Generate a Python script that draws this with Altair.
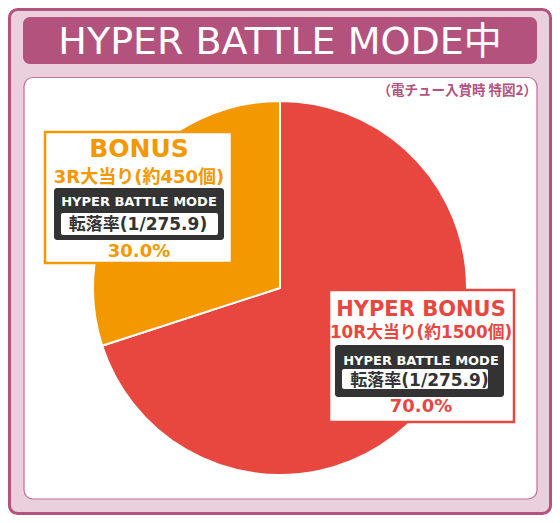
import altair as alt
import pandas as pd

# ---------------- data ----------------
categories = ["HYPER BONUS", "BONUS"]
shares = [70.0, 30.0]
slice_colors = ["#e8473f", "#f39800"]
headline_labels = ["HYPER BONUS", "BONUS"]
round_labels = ["10R大当り(約1500個)", "3R大当り(約450個)"]
mode_labels = ["HYPER BATTLE MODE", "HYPER BATTLE MODE"]
rate_labels = ["転落率(1/275.9)", "転落率(1/275.9)"]
pct_labels = ["70.0%", "30.0%"]
title_text = "HYPER BATTLE MODE中"
note_text = "（電チュー入賞時 特図2）"

# ---------------- layout helpers ----------------
OX, OY = 8, 8  # page margin
W, H = 544, 507
LATIN = "DejaVu Sans, Noto Sans CJK JP"


def px(v):
    return v - OX


def py(v):
    return v - OY


one = pd.DataFrame({"k": [0]})


def box(x1, y1, x2, y2, fill, stroke=None, sw=0, r=0):
    kw = dict(fill=fill, cornerRadius=r)
    if stroke:
        kw.update(stroke=stroke, strokeWidth=sw)
    else:
        kw.update(strokeWidth=0)
    return alt.Chart(one).mark_rect(**kw).encode(
        x=alt.value(px(x1)), x2=alt.value(px(x2)),
        y=alt.value(py(y1)), y2=alt.value(py(y2)))


def label(text, x, y, size, color, weight="bold", align="center", font=LATIN):
    df = pd.DataFrame({"t": [text]})
    return alt.Chart(df).mark_text(
        font=font, fontSize=size, fontWeight=weight, color=color,
        align=align, baseline="alphabetic").encode(
        x=alt.value(px(x)), y=alt.value(py(y)), text="t:N")


layers = []
# outer frame (drawn along the chart's own edges)
layers.append(box(OX + 1.5, OY + 1.5, OX + W - 1.5, OY + H - 1.5,
                  "#e9d0dc", "#b5527e", 3, 8))
# title banner
layers.append(box(23, 17, 537, 64, "#b3527d", r=7))
layers.append(label(title_text, 280, 54, 38, "white", weight="normal"))
# white panel
layers.append(box(24, 77.5, 537, 499, "white", "#c2709f", 1.2, 9))
layers.append(label(note_text, 537, 95, 13.5, "#b3527d", align="right",
                    font="Noto Sans CJK JP"))

# pie
pie_df = pd.DataFrame({"category": categories, "share": shares,
                       "order": list(range(len(categories)))})
pie = alt.Chart(pie_df).mark_arc(stroke="white", strokeWidth=2, radius=187).encode(
    theta=alt.Theta("share:Q", stack=True),
    color=alt.Color("category:N", scale=alt.Scale(domain=categories, range=slice_colors),
                    legend=None),
    order=alt.Order("order:Q"),
    x=alt.value(px(280)), y=alt.value(py(288)),
)
layers.append(pie)

# label boxes
specs = [
    dict(i=0, outer=(329, 290, 514, 422), dark=(335, 345, 504, 397),
         inner=(342, 369, 488, 389), cx=421, rate_x=419.5,
         ys=(316, 338, 365, 386, 412), sizes=(21, 16.8, 13, 17, 18)),
    dict(i=1, outer=(45, 132, 232, 263), dark=(54, 188, 224, 240),
         inner=(61, 213, 218, 235), cx=139, rate_x=138,
         ys=(157, 183, 206, 230, 257), sizes=(25, 18, 13, 17, 18)),
]
for s in specs:
    i = s["i"]
    col = slice_colors[i]
    layers.append(box(*s["outer"], "white", col, 2.5))
    layers.append(box(*s["dark"], "#333333", r=3))
    layers.append(box(*s["inner"], "white", r=2))
    ys, sz = s["ys"], s["sizes"]
    layers.append(label(headline_labels[i], s["cx"], ys[0], sz[0], col))
    layers.append(label(round_labels[i], s["cx"], ys[1], sz[1], col))
    layers.append(label(mode_labels[i], s["cx"], ys[2], sz[2], "white"))
    layers.append(label(rate_labels[i], s["rate_x"], ys[3], sz[3], "#333333"))
    layers.append(label(pct_labels[i], s["cx"], ys[4], sz[4], col))

chart = alt.layer(*layers).properties(
    width=W, height=H, padding=0,
    autosize=alt.AutoSizeParams(type="none"),
).configure_view(stroke=None)

chart.save("out.html", embed_options={"renderer": "svg", "actions": False})
